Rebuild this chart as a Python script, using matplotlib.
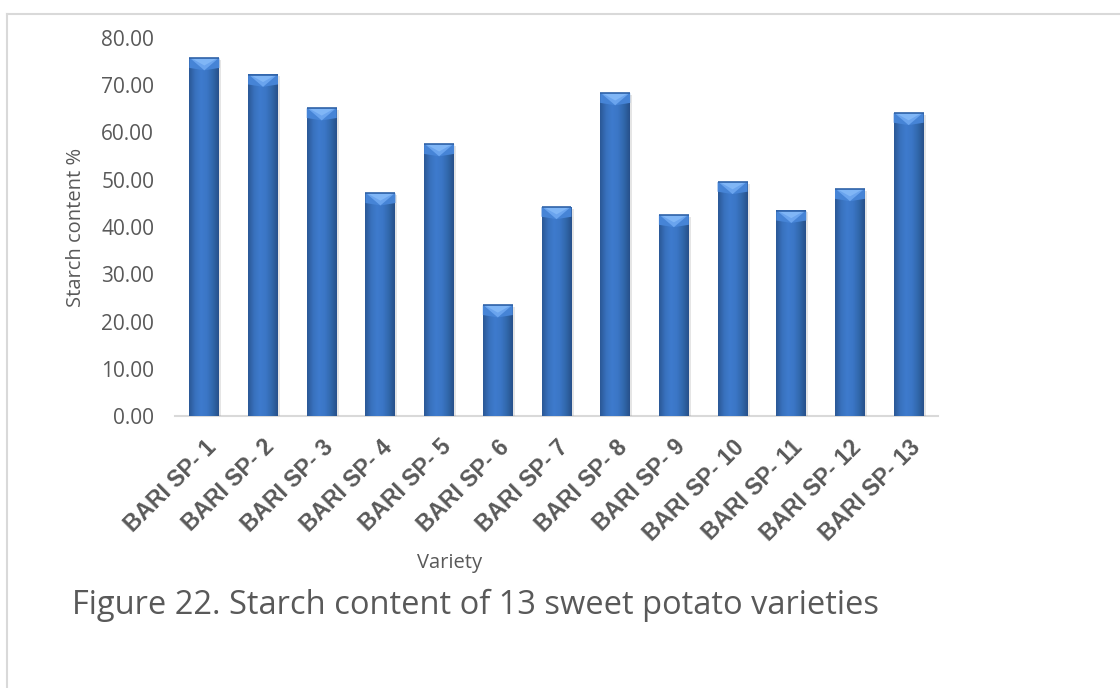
import matplotlib
matplotlib.use("Agg")
import matplotlib.pyplot as plt
import numpy as np
from matplotlib.patches import Polygon
from matplotlib.colors import LinearSegmentedColormap
import matplotlib.patheffects as pe

varieties = ["BARI SP- 1", "BARI SP- 2", "BARI SP- 3", "BARI SP- 4", "BARI SP- 5",
             "BARI SP- 6", "BARI SP- 7", "BARI SP- 8", "BARI SP- 9", "BARI SP- 10",
             "BARI SP- 11", "BARI SP- 12", "BARI SP- 13"]
starch = [75.7, 72.2, 65.1, 47.1, 57.5, 23.4, 44.2, 68.3, 42.5, 49.5, 43.4, 48.0, 64.1]
yticks = [0, 10, 20, 30, 40, 50, 60, 70, 80]

W, H = 1120, 688
fig = plt.figure(figsize=(W / 100, H / 100), dpi=100)
fig.patch.set_facecolor("white")

# outer border (top and left)
fig.add_artist(plt.Line2D([7 / W, 1], [1 - 14 / H, 1 - 14 / H], color="#d9d9d9", lw=1.5))
fig.add_artist(plt.Line2D([7 / W, 7 / W], [0, 1 - 14 / H], color="#d9d9d9", lw=1.5))

left, right, bottom, top = 175 / W, 938 / W, 1 - 416 / H, 1 - 38 / H
ax = fig.add_axes([left, bottom, right - left, top - bottom])

x = np.arange(len(varieties))
bw = 0.51
grad_cmap = LinearSegmentedColormap.from_list(
    "g", ["#2b5896", "#3871bd", "#3e7bcd", "#3b76c6", "#3168ac", "#27508a"])
grad = np.linspace(0, 1, 64).reshape(1, -1)

ylo, yhi = 0, 80
px_per_unit = (416 - 38) / (yhi - ylo)
bevel_h = 12 / px_per_unit

bars = ax.bar(x, starch, width=bw, color="#3a74c2", zorder=2, linewidth=0)
for b in bars:
    b.set_path_effects([pe.SimplePatchShadow(offset=(1.5, -1), shadow_rgbFace="#999999", alpha=0.25), pe.Normal()])

for xi, v in zip(x, starch):
    x0, x1 = xi - bw / 2, xi + bw / 2
    ax.imshow(grad, cmap=grad_cmap, extent=[x0, x1, 0, v], aspect="auto", zorder=3,
              interpolation="bicubic")
    # top bevel: side facets then a light inverted triangle
    ax.add_patch(Polygon([[x0, v], [x1, v], [x1, v - bevel_h * 0.8], [xi, v - bevel_h], [x0, v - bevel_h * 0.8]],
                         closed=True, facecolor="#4684d6", edgecolor="none", zorder=4))
    ax.add_patch(Polygon([[x0 + bw * 0.03, v], [x1 - bw * 0.03, v], [xi, v - bevel_h]],
                         closed=True, facecolor="#6aa4ee", edgecolor="none", zorder=5))
    ax.add_patch(Polygon([[x0 + bw * 0.07, v], [x1 - bw * 0.07, v], [xi, v - bevel_h * 0.6]],
                         closed=True, facecolor="#80b6f6", edgecolor="none", zorder=6))
    ax.plot([x0, x1], [v, v], color="#2f62a8", lw=1.2, zorder=7, solid_capstyle="butt")

ax.set_xlim(-0.5, len(varieties) - 0.5)
ax.set_ylim(ylo, yhi)
ax.set_yticks(yticks)
ax.set_yticklabels([f"{t:.2f}" for t in yticks], fontsize=15, color="#595959", family="Open Sans")
ax.set_xticks(x)
ax.set_xticklabels(varieties, rotation=45, ha="right", rotation_mode="anchor",
                   fontsize=16.5, fontweight="bold", color="#595959", family="Liberation Sans")
ax.tick_params(axis="both", length=0)
ax.tick_params(axis="y", pad=15)
ax.tick_params(axis="x", pad=14)
for s in ["top", "right", "left"]:
    ax.spines[s].set_visible(False)
ax.spines["bottom"].set_color("#d9d9d9")
ax.spines["bottom"].set_linewidth(1.5)
ax.spines["bottom"].set_zorder(1)

fig.text(76 / W, 1 - 227 / H, "Starch content %", rotation=90, ha="center", va="center",
         fontsize=14.5, color="#595959", family="Open Sans")
fig.text(450 / W, 1 - 563 / H, "Variety", ha="center", va="center",
         fontsize=14.5, color="#595959", family="Open Sans")
fig.text(72 / W, 1 - 605 / H, "Figure 22. Starch content of 13 sweet potato varieties",
         ha="left", va="center", fontsize=23.5, color="#595959", family="Open Sans")

fig.savefig("out.png", dpi=100, facecolor="white")
